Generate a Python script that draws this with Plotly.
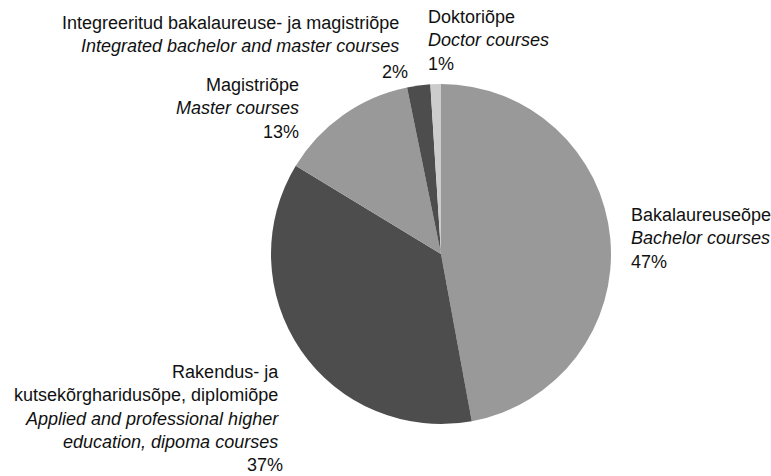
import plotly.graph_objects as go

# Data
labels_et = ["Bakalaureuseõpe", "Rakendus- ja<br>kutsekõrgharidusõpe, diplomiõpe",
             "Magistriõpe", "Integreeritud bakalaureuse- ja magistriõpe", "Doktoriõpe"]
labels_en = ["Bachelor courses", "Applied and professional higher<br>education, dipoma courses",
             "Master courses", "Integrated bachelor and master courses", "Doctor courses"]
values = [47.1, 36.6, 13.1, 2.2, 1.0]
colors = ["#999999", "#4d4d4d", "#999999", "#4d4d4d", "#cccccc"]

W, H = 771, 476
total = sum(values)
pct = [f"{round(v / total * 100)}%" for v in values]

fig = go.Figure()
cx, cy, r = 441, 254, 170
fig.add_trace(go.Pie(
    labels=[l.replace("<br>", " ") for l in labels_et],
    values=values,
    marker=dict(colors=colors, line=dict(width=0)),
    sort=False, direction="clockwise", rotation=0,
    textinfo="none", hoverinfo="label+percent",
    showlegend=False,
    domain=dict(x=[(cx - r) / W, (cx + r) / W], y=[(H - cy - r) / H, (H - cy + r) / H]),
))

FONT = "Liberation Sans, Arial, Helvetica, sans-serif"
FS = 18


def ann(text, x, y, xanchor, align):
    fig.add_annotation(text=text, x=x / W, y=1 - y / H, xref="paper", yref="paper",
                       xanchor=xanchor, yanchor="middle", align=align, showarrow=False,
                       borderpad=0, borderwidth=0,
                       font=dict(family=FONT, size=FS, color="#111111"))


# Bakalaureuseõpe (index 0)
ann(f"{labels_et[0]}<br><i>{labels_en[0]}</i><br>{pct[0]}", 631, 238, "left", "left")
# Rakendus (index 1)
ann(f"{labels_et[1]}<br><i>{labels_en[1]}</i>", 279, 407, "right", "right")
ann(pct[1], 283, 465, "right", "right")
# Magistriõpe (index 2)
ann(f"{labels_et[2]}<br><i>{labels_en[2]}</i><br>{pct[2]}", 299, 108.7, "right", "right")
# Integrated (index 3)
ann(f"{labels_et[3]}<br><i>{labels_en[3]}</i>", 399, 35, "right", "right")
ann(pct[3], 408, 72, "right", "right")
# Doctor (index 4)
ann(f"{labels_et[4]}<br><i>{labels_en[4]}</i><br>{pct[4]}", 428, 40.7, "left", "left")

fig.update_layout(width=W, height=H, margin=dict(l=0, r=0, t=0, b=0),
                  paper_bgcolor="white", plot_bgcolor="white",
                  font=dict(family=FONT, size=FS, color="#111111"))

fig.write_html("out.html", config={"displayModeBar": False},
               post_script="document.body.style.margin='0';document.body.style.overflow='hidden';")
